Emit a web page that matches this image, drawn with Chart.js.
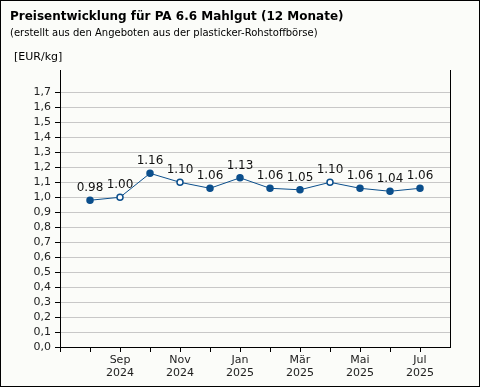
<!DOCTYPE html>
<html>
<head>
<meta charset="utf-8">
<script src="https://cdn.jsdelivr.net/npm/chart.js@4"></script>
<style>
  body { margin: 0; }
  #wrap {
    position: relative;
    width: 480px;
    height: 387px;
    box-sizing: border-box;
    border: 1px solid #000;
    background: #fbfcf9;
    font-family: "DejaVu Sans", Verdana, sans-serif;
    color: #000;
  }
  #chart { position: absolute; left: -1px; top: -1px; }
  .txt { position: absolute; white-space: nowrap; }
  #title { left: 9px; top: 8px; font-size: 12px; font-weight: bold; }
  #sub { left: 9px; top: 26px; font-size: 10px; }
  #unit { left: 13px; top: 49px; font-size: 11px; }
</style>
</head>
<body>
<div id="wrap">
  <canvas id="chart" width="480" height="387"></canvas>
  <div class="txt" id="title">Preisentwicklung für PA 6.6 Mahlgut (12 Monate)</div>
  <div class="txt" id="sub">(erstellt aus den Angeboten aus der plasticker-Rohstoffbörse)</div>
  <div class="txt" id="unit">[EUR/kg]</div>
</div>
<script>
// Aug 2024 .. Jul 2025
const monate = ["Aug", "Sep", "Okt", "Nov", "Dez", "Jan", "Feb", "Mär", "Apr", "Mai", "Jun", "Jul"];
const jahre = ["2024", "2024", "2024", "2024", "2024", "2025", "2025", "2025", "2025", "2025", "2025", "2025"];
const preise = [0.98, 1.00, 1.16, 1.10, 1.06, 1.13, 1.06, 1.05, 1.10, 1.06, 1.04, 1.06];
const hohl = [false, true, false, true, false, false, false, false, true, false, false, false];

const blau = "#0b4f8c";
const punkte = preise.map((p, i) => ({ x: i, y: p }));

// Werte über die Punkte schreiben
const wertePlugin = {
    id: "werte",
    afterDatasetsDraw(chart) {
        const ctx = chart.ctx;
        const meta = chart.getDatasetMeta(0);
        ctx.save();
        ctx.font = "12px 'DejaVu Sans'";
        ctx.fillStyle = "#111";
        ctx.textAlign = "center";
        ctx.textBaseline = "alphabetic";
        meta.data.forEach((el, i) => {
            ctx.fillText(preise[i].toFixed(2), el.x, el.y - 9);
        });
        ctx.restore();
    },
    beforeDatasetsDraw(chart) {
        // rechter Rahmen
        const a = chart.chartArea;
        const ctx = chart.ctx;
        ctx.save();
        ctx.strokeStyle = "#000";
        ctx.lineWidth = 1;
        ctx.beginPath();
        ctx.moveTo(a.right + 0.5, a.top);
        ctx.lineTo(a.right + 0.5, a.bottom + 0.5);
        ctx.stroke();
        ctx.restore();
    },
};

new Chart(document.getElementById("chart"), {
    type: "line",
    data: {
        datasets: [{
            data: punkte,
            borderColor: blau,
            borderWidth: 1,
            pointRadius: 3,
            pointBorderWidth: 1.5,
            pointBorderColor: blau,
            pointBackgroundColor: hohl.map((h) => (h ? "#ffffff" : blau)),
            tension: 0,
        }],
    },
    options: {
        responsive: false,
        animation: false,
        layout: { padding: { top: 70, right: 30, left: 0, bottom: 0 } },
        plugins: { legend: { display: false }, tooltip: { enabled: false } },
        scales: {
            x: {
                type: "linear",
                min: -1,
                max: 12,
                afterFit(scale) { scale.height = 40; },
                border: { color: "#000", width: 1 },
                grid: { drawOnChartArea: false, tickLength: 5, tickColor: "#000" },
                ticks: {
                    stepSize: 1,
                    autoSkip: false,
                    maxRotation: 0,
                    padding: 2,
                    color: "#222",
                    font: { family: "DejaVu Sans", size: 11, lineHeight: 1.15 },
                    callback: (v) => {
                        if (v % 2 === 1 && v >= 0 && v < monate.length) {
                            return [monate[v], jahre[v]];
                        }
                        return v <= 11 ? "" : null;
                    },
                },
            },
            y: {
                min: 0,
                max: 1.85,
                afterFit(scale) { scale.width = 60; },
                border: { color: "#000", width: 1 },
                grid: { color: "#c8c8c8", tickLength: 5, tickColor: "#000" },
                ticks: {
                    stepSize: 0.1,
                    padding: 4,
                    color: "#222",
                    font: { family: "DejaVu Sans", size: 11 },
                    callback: (v) => (v > 1.75 ? null : v.toFixed(1).replace(".", ",")),
                },
            },
        },
    },
    plugins: [wertePlugin],
});
</script>
</body>
</html>
